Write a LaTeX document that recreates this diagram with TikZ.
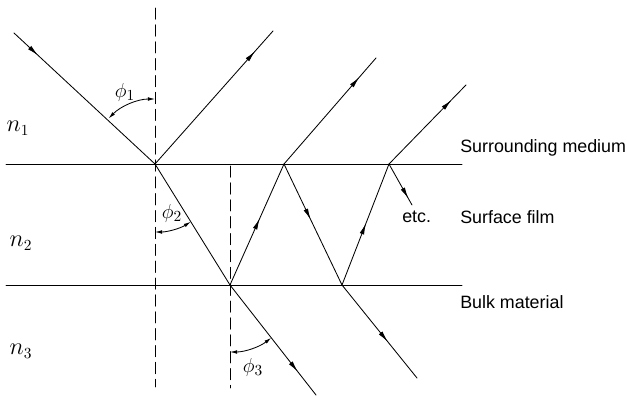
\documentclass[tikz,border=0pt]{standalone}
\usepackage{amsmath,amssymb}
\usepackage{fontspec}
\setmainfont{Liberation Sans}
\usepackage{tikz}
\usetikzlibrary{calc,arrows.meta,decorations.markings}

\begin{document}
\begin{tikzpicture}[x=0.025cm, y=0.025cm, line join=round, line cap=round, font=\fontsize{15}{17}\selectfont,
	tia/.style={line width=0.6pt, decoration={markings, mark=at position #1 with {\arrow{Latex[length=8pt,width=3.3pt]}}}, postaction={decorate}},
	tia/.default=0.5,
	phap/.style={dash pattern=on 8pt off 4pt, line width=0.6pt},
	goc/.style={line width=0.6pt, {Latex[length=5pt,width=2.6pt]}-{Latex[length=5pt,width=2.6pt]}},
	nhan/.style={anchor=west, inner sep=0pt, font=\fontsize{12.7}{14}\selectfont},
	chiso/.style={font=\fontsize{16}{18}\selectfont}]
	\useasboundingbox (0,0) rectangle (627,396);
	% Các điểm trên mặt phân cách
	\coordinate (A) at (155,232);
	\coordinate (B) at (230,111);
	\coordinate (C) at (284,232);
	\coordinate (D) at (342,111);
	\coordinate (E) at (389,232);
	% Đầu mút các tia
	\coordinate (S) at (14,363);
	\coordinate (R1) at (273,365);
	\coordinate (R2) at (376,338);
	\coordinate (R3) at (466,311);
	\coordinate (T1) at (316,1);
	\coordinate (T2) at (417,18);
	\coordinate (K) at (412,191);
	% Mặt phân cách
	\coordinate (L1) at (6,232);
	\coordinate (M1) at (462,232);
	\coordinate (L2) at (6,111);
	\coordinate (M2) at (462,111);
	\draw[line width=0.7pt] (L1) -- (M1);
	\draw[line width=0.7pt] (L2) -- (M2);
	% Pháp tuyến nét đứt
	\coordinate (P1) at (155,388);
	\coordinate (Q1) at (155,9);
	\coordinate (P2) at (230,230);
	\coordinate (Q2) at (230,8);
	\draw[phap] (P1) -- (Q1);
	\draw[phap] (P2) -- (Q2);
	% Các tia sáng
	\draw[tia=0.17] (S) -- (A);
	\draw[tia=0.85] (A) -- (R1);
	\draw[line width=0.6pt] (A) -- (B);
	\draw[tia=0.55] (B) -- (C);
	\draw[tia=0.46] (C) -- (D);
	\draw[tia=0.51] (D) -- (E);
	\draw[tia=0.82] (C) -- (R2);
	\draw[tia=0.81] (E) -- (R3);
	\draw[tia=0.84] (E) -- (K);
	\draw[tia=0.79] (B) -- (T1);
	\draw[tia=0.61] (D) -- (T2);
	% Các góc
	\draw[goc] ($(A)+(135.5:65)$) arc[start angle=135.5, end angle=90, radius=65];
	\draw[goc] ($(A)+(270:68)$) arc[start angle=270, end angle=301.8, radius=68];
	\draw[goc] ($(B)+(270:67)$) arc[start angle=270, end angle=308, radius=67];
	\node (phi1) at (125,304) {$\phi_1$};
	\node (phi2) at (172,183) {$\phi_2$};
	\node (phi3) at (253,29) {$\phi_3$};
	% Chiết suất
	\node[chiso] (n1) at (18,268) {$n_1$};
	\node[chiso] (n2) at (21,153) {$n_2$};
	\node[chiso] (n3) at (21,45) {$n_3$};
	% Tên các lớp
	\node[nhan] (moitruong) at (460,248) {Surrounding medium};
	\node[nhan] (mang) at (460,179) {Surface film};
	\node[nhan] (etc) at (402,179) {etc.};
	\node[nhan] (khoi) at (460,94) {Bulk material};
\end{tikzpicture}
\end{document}
